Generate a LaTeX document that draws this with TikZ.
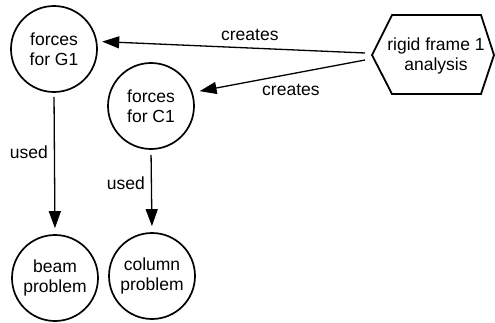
\documentclass[tikz,border=0pt]{standalone}
\usepackage{fontspec}
\setmainfont{Liberation Sans}
\usetikzlibrary{arrows.meta}
\begin{document}
\begin{tikzpicture}[x=1pt,y=-1pt,
  lbl/.style={font=\fontsize{17.5}{20}\selectfont, inner sep=0pt},
  ent/.style={circle, draw, line width=1.7pt, minimum size=86pt, inner sep=0pt, align=center, font=\fontsize{17.5}{20}\selectfont},
  conn/.style={line width=1.3pt, -{Triangle[length=17pt,width=12pt]}}]
\useasboundingbox (0,0) rectangle (495,322);
\node[ent] (g1) at (54,49) {forces\\for G1};
\node[ent] (c1) at (151,106) {forces\\for C1};
\node[ent] (beam) at (55,278) {beam\\problem};
\node[ent] (col) at (152,276) {column\\problem};
\draw[line width=1.8pt, line join=miter] (372,55) -- (392,15) -- (481,15) -- (494,55) -- (481,94) -- (392,94) -- cycle;
\node[lbl, align=center] (hex) at (436,56) {rigid frame 1\\analysis};
\coordinate (h1) at (365,53);
\coordinate (h2) at (365,60);
\draw[conn, shorten >=5pt] (h1) -- (g1.10) node[lbl, pos=0.43, above=7pt] (t1) {creates};
\draw[conn, shorten >=7pt] (h2) -- (c1.18) node[lbl, pos=0.43, below=10pt] (t2) {creates};
\draw[conn, shorten <=4pt, shorten >=6pt] (g1.south) -- (beam.north) node[lbl, pos=0.42, left=6pt] (u1) {used};
\draw[conn, shorten <=5pt, shorten >=6pt] (c1.south) -- (col.north) node[lbl, pos=0.4, left=6pt] (u2) {used};
\end{tikzpicture}
\end{document}
